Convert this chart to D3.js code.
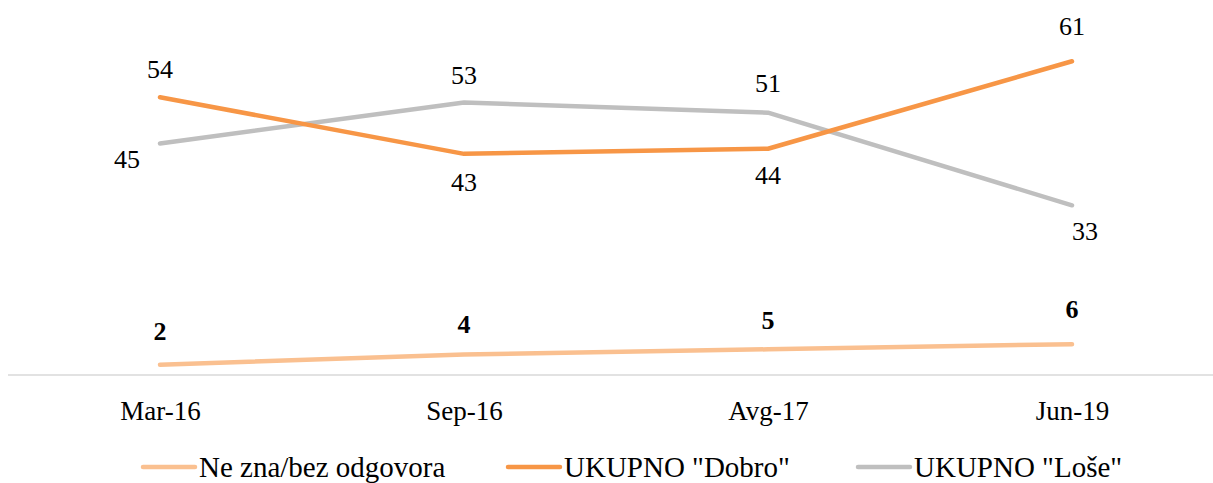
<!DOCTYPE html>
<html>
<head>
<meta charset="utf-8">
<script src="https://cdn.jsdelivr.net/npm/d3@7"></script>
<style>
  body { margin: 0; background: #fff; }
</style>
</head>
<body>
<svg width="1213" height="483"></svg>
<script>
const categories = ['Mar-16', 'Sep-16', 'Avg-17', 'Jun-19'];
const seriesNames = ['Ne zna/bez odgovora', 'UKUPNO "Dobro"', 'UKUPNO "Loše"'];
const neZna = [2, 4, 5, 6];
const dobro = [54, 43, 44, 61];
const lose = [45, 53, 51, 33];
const colors = ['#FAC090', '#F79646', '#BFBFBF'];

const FONT = '"Liberation Serif", "Times New Roman", serif';

// label offsets per series / point (px from the point to the baseline)
const labelOffsets = [
  [[0, -25], [0, -21], [0, -20], [0, -26]],
  [[0, -19], [0, 37], [0, 35], [0, -26]],
  [[-33, 24], [0, -18], [0, -21], [13, 35]]
];

const svg = d3.select('svg');

const x = d3.scalePoint()
  .domain(categories)
  .range([160, 1072]);

const y = d3.scaleLinear()
  .domain([0, 70])
  .range([375, 15]);

// baseline axis
svg.append('line')
  .attr('x1', 8).attr('x2', 1213)
  .attr('y1', y(0)).attr('y2', y(0))
  .attr('stroke', '#D9D9D9')
  .attr('stroke-width', 1.5);

const xAxis = d3.axisBottom(x).tickSize(0).tickPadding(0);
const xAxisG = svg.append('g')
  .attr('transform', `translate(0, ${y(0)})`)
  .call(xAxis);
xAxisG.select('.domain').remove();
xAxisG.selectAll('text')
  .attr('dy', 0)
  .attr('y', 45)
  .attr('fill', '#000')
  .style('font-size', '27px')
  .style('font-family', FONT);

const series = [neZna, dobro, lose];
const line = d3.line()
  .x((d, i) => x(categories[i]))
  .y(d => y(d));

// draw grey first, then orange, then light
[2, 1, 0].forEach(s => {
  svg.append('path')
    .datum(series[s])
    .attr('d', line)
    .attr('fill', 'none')
    .attr('stroke', colors[s])
    .attr('stroke-width', 4.5)
    .attr('stroke-linecap', 'round')
    .attr('stroke-linejoin', 'round');
});

series.forEach((vals, s) => {
  svg.append('g').selectAll('text')
    .data(vals)
    .enter().append('text')
      .attr('x', (d, i) => x(categories[i]) + labelOffsets[s][i][0])
      .attr('y', (d, i) => y(d) + labelOffsets[s][i][1])
      .attr('text-anchor', 'middle')
      .attr('fill', '#000')
      .style('font-family', FONT)
      .style('font-size', '26px')
      .style('font-weight', s === 0 ? 'bold' : 'normal')
      .text(d => d);
});

// legend
const legendX = [143, 508, 858];
const legend = svg.append('g');
seriesNames.forEach((name, s) => {
  legend.append('line')
    .attr('x1', legendX[s]).attr('x2', legendX[s] + 52)
    .attr('y1', 467).attr('y2', 467)
    .attr('stroke', colors[s])
    .attr('stroke-width', 4.5)
    .attr('stroke-linecap', 'round');
  legend.append('text')
    .attr('x', legendX[s] + 56)
    .attr('y', 477)
    .attr('fill', '#000')
    .style('font-family', FONT)
    .style('font-size', '29px')
    .text(name);
});
</script>
</body>
</html>
